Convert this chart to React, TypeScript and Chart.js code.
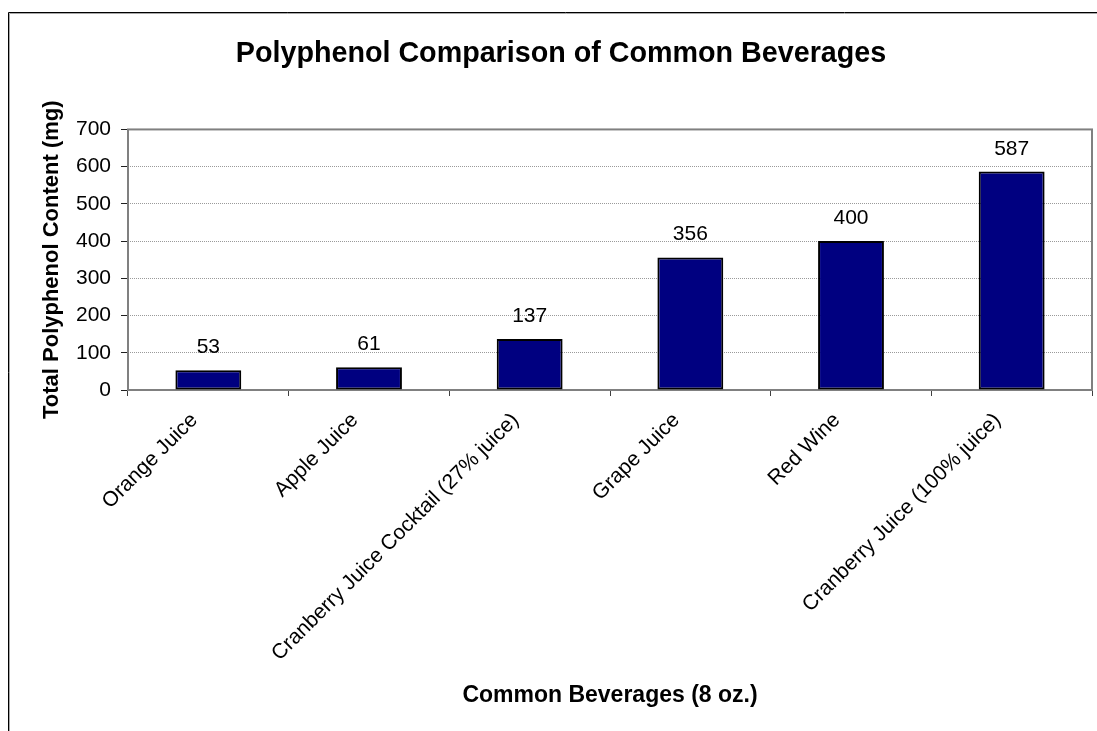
import React, { useEffect, useRef } from "react";
import { Chart, registerables } from "chart.js";

Chart.register(...registerables);

// Beverage categories and their total polyphenol content (mg per 8 oz.)
const beverages = [
  "Orange Juice",
  "Apple Juice",
  "Cranberry Juice Cocktail (27% juice)",
  "Grape Juice",
  "Red Wine",
  "Cranberry Juice (100% juice)",
];
const polyphenolMg = [53, 61, 137, 356, 400, 587];

// Value axis range
const yMin = 0;
const yMax = 700;
const yStep = 100;

const chartTitle = "Polyphenol Comparison of Common Beverages";
const xAxisTitle = "Common Beverages (8 oz.)";
const yAxisTitle = "Total Polyphenol Content (mg)";

const CANVAS_W = 1122;
const CANVAS_H = 731;
const FONT = "'Liberation Sans', Arial, Helvetica, sans-serif";

// Outer chart frame: black rule with a soft grey shadow on its inner side
const outerFrame = {
  id: "outerFrame",
  beforeDraw(chart: any) {
    const { ctx, width, height } = chart;
    ctx.save();
    ctx.lineWidth = 1;
    ctx.strokeStyle = "#000";
    ctx.beginPath();
    ctx.moveTo(8.5, height + 5);
    ctx.lineTo(8.5, 12.5);
    ctx.lineTo(width + 5, 12.5);
    ctx.stroke();
    ctx.strokeStyle = "#a8a8a8";
    ctx.beginPath();
    ctx.moveTo(9.5, height + 5);
    ctx.lineTo(9.5, 13.5);
    ctx.lineTo(width + 5, 13.5);
    ctx.stroke();
    ctx.restore();
  },
};

// Grey border round the plot area
const plotFrame = {
  id: "plotFrame",
  beforeDatasetsDraw(chart: any) {
    const { ctx, chartArea } = chart;
    ctx.save();
    ctx.lineWidth = 2;
    ctx.strokeStyle = "#808080";
    ctx.strokeRect(
      chartArea.left,
      chartArea.top,
      chartArea.right - chartArea.left,
      chartArea.bottom - chartArea.top
    );
    ctx.restore();
  },
};

// Value labels above each bar
const barValueLabels = {
  id: "barValueLabels",
  afterDatasetsDraw(chart: any) {
    const { ctx } = chart;
    const meta = chart.getDatasetMeta(0);
    const values = chart.data.datasets[0].data as number[];
    ctx.save();
    ctx.font = `21px ${FONT}`;
    ctx.fillStyle = "#000";
    ctx.textAlign = "center";
    ctx.textBaseline = "alphabetic";
    meta.data.forEach((bar: any, i: number) => {
      ctx.fillText(String(values[i]), bar.x, bar.y - 17);
    });
    ctx.restore();
  },
};

export default function App() {
  const canvasRef = useRef<HTMLCanvasElement | null>(null);

  useEffect(() => {
    if (!canvasRef.current) return;
    const chart = new Chart(canvasRef.current, {
      type: "bar",
      data: {
        labels: beverages,
        datasets: [
          {
            data: polyphenolMg,
            backgroundColor: "#000080",
            borderColor: "#000000",
            borderWidth: 2,
            borderSkipped: false,
            categoryPercentage: 1,
            barPercentage: 0.41,
          },
        ],
      },
      options: {
        responsive: false,
        animation: false,
        events: [],
        layout: { padding: { left: 30, right: 30, top: 0, bottom: 22 } },
        plugins: {
          legend: { display: false },
          tooltip: { enabled: false },
          title: {
            display: true,
            text: chartTitle,
            color: "#000",
            font: { family: FONT, size: 28.7, weight: "bold" },
            padding: { top: 37, bottom: 58 },
          },
        },
        scales: {
          x: {
            grid: {
              display: true,
              drawOnChartArea: false,
              drawTicks: true,
              tickLength: 6,
              tickColor: "#404040",
              tickWidth: 1,
            },
            border: { display: false },
            ticks: {
              autoSkip: false,
              minRotation: 45,
              maxRotation: 45,
              padding: 12,
              labelOffset: -14,
              color: "#000",
              font: { family: FONT, size: 21 },
            },
            title: {
              display: true,
              text: xAxisTitle,
              color: "#000",
              font: { family: FONT, size: 23, weight: "bold" },
              padding: { top: 0, bottom: 0 },
            },
            afterFit(scale: any) {
              scale.height = 319;
            },
          },
          y: {
            min: yMin,
            max: yMax,
            grid: {
              color: "#9a9a9a",
              lineWidth: 1,
              drawTicks: true,
              tickLength: 7,
              tickColor: "#202020",
              tickWidth: 1,
              tickBorderDash: [],
            },
            border: { display: false, dash: [1, 1] },
            ticks: {
              stepSize: yStep,
              padding: 10,
              color: "#000",
              font: { family: FONT, size: 21 },
            },
            title: {
              display: true,
              text: yAxisTitle,
              color: "#000",
              font: { family: FONT, size: 22, weight: "bold" },
              padding: { top: 9, bottom: 0 },
            },
            afterFit(scale: any) {
              scale.width = 98;
            },
          },
        },
      },
      plugins: [outerFrame, plotFrame, barValueLabels],
    });
    return () => chart.destroy();
  }, []);

  return (
    <div
      style={{
        position: "fixed",
        left: 0,
        top: 0,
        width: 1097,
        height: 731,
        overflow: "hidden",
        background: "#fff",
      }}
    >
      <canvas
        ref={canvasRef}
        width={CANVAS_W}
        height={CANVAS_H}
        style={{ display: "block", width: CANVAS_W, height: CANVAS_H }}
      />
    </div>
  );
}
